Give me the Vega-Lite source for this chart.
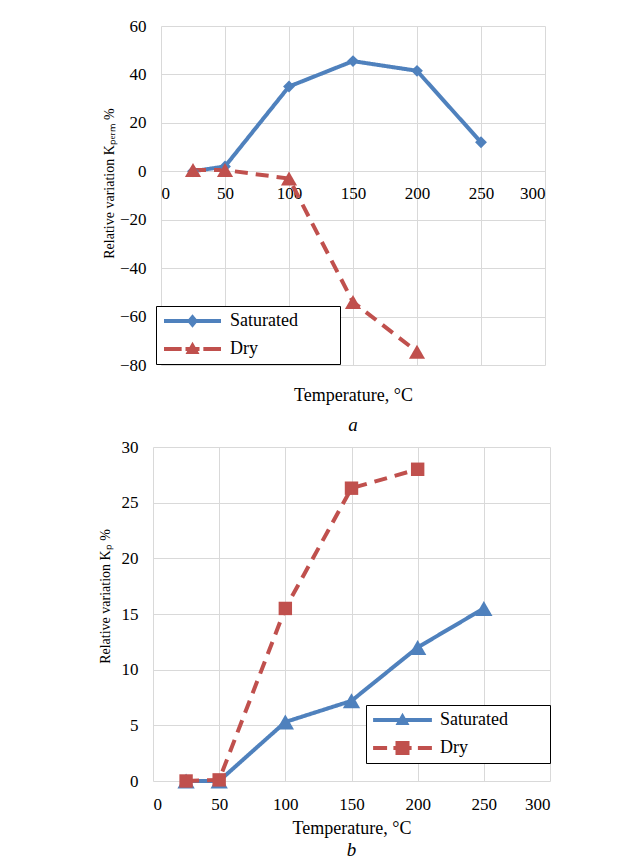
{
  "$schema": "https://vega.github.io/schema/vega-lite/v6.json",
  "padding": {"left": 98, "top": 17, "right": 5, "bottom": 5},
  "background": "white",
  "spacing": 3,
  "resolve": {"scale": {"color": "independent", "shape": "independent", "strokeDash": "independent"},
              "legend": {"color": "independent", "shape": "independent"}},
  "config": {
    "font": "Liberation Serif, Times New Roman, serif",
    "view": {"stroke": null},
    "axis": {
      "grid": true, "gridColor": "#d9d9d9", "gridWidth": 1,
      "domain": false, "ticks": false, "tickSize": 0,
      "labelFont": "Liberation Serif, Times New Roman, serif", "labelFontSize": 17, "labelColor": "#000",
      "titleFont": "Liberation Serif, Times New Roman, serif", "titleFontSize": 17, "titleFontWeight": "normal", "titleColor": "#000"
    },
    "legend": {
      "strokeColor": "#000", "strokeWidth": 1, "fillColor": "#fff", "padding": 6,
      "symbolSize": 196, "symbolOffset": 21.5, "symbolStrokeWidth": 0, "symbolOpacity": 1,
      "labelFont": "Liberation Serif, Times New Roman, serif", "labelFontSize": 18, "labelColor": "#000",
      "labelOffset": 28.5, "rowPadding": 10, "labelLimit": 300, "cornerRadius": 0
    },
    "title": {"font": "Liberation Serif, Times New Roman, serif", "fontSize": 19, "fontStyle": "italic", "fontWeight": "normal", "orient": "bottom", "color": "#000"}
  },
  "datasets": {
    "a": [
      {"series": "Saturated", "temp": 25, "value": 0},
      {"series": "Saturated", "temp": 50, "value": 2},
      {"series": "Saturated", "temp": 100, "value": 35},
      {"series": "Saturated", "temp": 150, "value": 45.5},
      {"series": "Saturated", "temp": 200, "value": 41.5},
      {"series": "Saturated", "temp": 250, "value": 12},
      {"series": "Dry", "temp": 25, "value": 0.5},
      {"series": "Dry", "temp": 50, "value": 0.5},
      {"series": "Dry", "temp": 100, "value": -3},
      {"series": "Dry", "temp": 150, "value": -54},
      {"series": "Dry", "temp": 200, "value": -74.5}
    ],
    "b": [
      {"series": "Saturated", "temp": 25, "value": 0},
      {"series": "Saturated", "temp": 50, "value": 0},
      {"series": "Saturated", "temp": 100, "value": 5.3},
      {"series": "Saturated", "temp": 150, "value": 7.2},
      {"series": "Saturated", "temp": 200, "value": 12},
      {"series": "Saturated", "temp": 250, "value": 15.5},
      {"series": "Dry", "temp": 25, "value": 0},
      {"series": "Dry", "temp": 50, "value": 0.1},
      {"series": "Dry", "temp": 100, "value": 15.5},
      {"series": "Dry", "temp": 150, "value": 26.3},
      {"series": "Dry", "temp": 200, "value": 28}
    ]
  },
  "vconcat": [
    {
      "spacing": 7,
      "bounds": "flush",
      "hconcat": [
        {"width": 1, "height": 1, "data": {"values": []}, "mark": {"type": "point", "opacity": 0}},
        {
          "width": 384, "height": 339,
          "title": {"text": "a", "offset": 12},
          "data": {"name": "a"},
          "encoding": {
            "x": {"field": "temp", "type": "quantitative", "scale": {"domain": [0, 300]},
                  "axis": {"values": [0, 50, 100, 150, 200, 250, 300], "title": "Temperature, °C", "offset": -194,
                           "labelPadding": 14, "titleY": 215, "titleBaseline": "top", "titleFontSize": 18}},
            "y": {"field": "value", "type": "quantitative", "scale": {"domain": [-80, 60]},
                  "axis": {"values": [-80, -60, -40, -20, 0, 20, 40, 60], "title": "Relative variation Kₚₑᵣₘ %",
                           "labelPadding": 15, "titlePadding": 3, "titleFontSize": 14, "titleY": 157}},
            "color": {"field": "series", "type": "nominal",
                      "scale": {"domain": ["Saturated", "Dry"], "range": ["#4f81bd", "#c0504d"]},
                      "legend": {"orient": "none", "legendX": 3, "legendY": 280, "title": null,
                                 "labelExpr": "datum.label + '\u00a0\u00a0\u00a0\u00a0\u00a0\u00a0\u00a0\u00a0\u200b'"}}
          },
          "layer": [
            {"transform": [{"filter": "false"}],
             "mark": {"type": "point", "filled": true},
             "encoding": {
               "shape": {"field": "series", "type": "nominal",
                         "scale": {"domain": ["Saturated", "Dry"],
                                   "range": ["M-4.07,-0.3H4.07V0.3H-4.07Z M0,-0.95L0.8,0L0,0.95L-0.8,0Z",
                                             "M-4.07,-0.3H-1.55V0.3H-4.07Z M-1,-0.3H1V0.3H-1Z M1.55,-0.3H4.07V0.3H1.55Z M0,-1.05L1,0.7L-1,0.7Z"]},
                         "legend": {"orient": "none", "legendX": 3, "legendY": 280, "title": null,
                                    "labelExpr": "datum.label + '\u00a0\u00a0\u00a0\u00a0\u00a0\u00a0\u00a0\u00a0\u200b'"}}}},
            {"mark": {"type": "line", "strokeWidth": 4},
             "encoding": {"strokeDash": {"field": "series", "type": "nominal",
                                         "scale": {"domain": ["Saturated", "Dry"], "range": [[1, 0], [13, 8]]}, "legend": null}}},
            {"transform": [{"filter": "datum.series === 'Saturated'"}],
             "mark": {"type": "point", "shape": "diamond", "size": 140, "filled": true, "opacity": 1, "strokeWidth": 0}},
            {"transform": [{"filter": "datum.series === 'Dry'"}],
             "mark": {"type": "point", "shape": "triangle-up", "size": 260, "filled": true, "opacity": 1, "strokeWidth": 0}}
          ]
        }
      ]
    },
    {
      "width": 397, "height": 334,
      "title": {"text": "b", "offset": 4},
      "data": {"name": "b"},
      "encoding": {
        "x": {"field": "temp", "type": "quantitative", "scale": {"domain": [0, 300]},
              "axis": {"values": [0, 50, 100, 150, 200, 250, 300], "title": "Temperature, °C",
                       "labelPadding": 15, "titlePadding": 7, "titleFontSize": 18}},
        "y": {"field": "value", "type": "quantitative", "scale": {"domain": [0, 30]},
              "axis": {"values": [0, 5, 10, 15, 20, 25, 30], "title": "Relative variation Kₚ %",
                       "labelPadding": 15, "titlePadding": 9, "titleFontSize": 14, "titleY": 149}},
        "color": {"field": "series", "type": "nominal",
                  "scale": {"domain": ["Saturated", "Dry"], "range": ["#4f81bd", "#c0504d"]},
                  "legend": {"orient": "none", "legendX": 213, "legendY": 258, "title": null,
                             "labelExpr": "datum.label + '\u00a0\u00a0\u00a0\u00a0\u00a0\u00a0\u00a0\u00a0\u200b'"}}
      },
      "layer": [
        {"transform": [{"filter": "false"}],
         "mark": {"type": "point", "filled": true},
         "encoding": {
           "shape": {"field": "series", "type": "nominal",
                     "scale": {"domain": ["Saturated", "Dry"],
                               "range": ["M-4.2,-0.3H4.2V0.3H-4.2Z M0,-1.05L1,0.7L-1,0.7Z",
                                         "M-4.2,-0.3H-2.2V0.3H-4.2Z M-1.3,-0.3H1.3V0.3H-1.3Z M2.2,-0.3H4.2V0.3H2.2Z M-1,-1H1V1H-1Z"]},
                     "legend": {"orient": "none", "legendX": 213, "legendY": 258, "title": null,
                                "labelExpr": "datum.label + '\u00a0\u00a0\u00a0\u00a0\u00a0\u00a0\u00a0\u00a0\u200b'"}}}},
        {"mark": {"type": "line", "strokeWidth": 4},
         "encoding": {"strokeDash": {"field": "series", "type": "nominal",
                                     "scale": {"domain": ["Saturated", "Dry"], "range": [[1, 0], [13, 8]]}, "legend": null}}},
        {"transform": [{"filter": "datum.series === 'Saturated'"}],
         "mark": {"type": "point", "shape": "triangle-up", "size": 300, "filled": true, "opacity": 1, "strokeWidth": 0}},
        {"transform": [{"filter": "datum.series === 'Dry'"}],
         "mark": {"type": "point", "shape": "square", "size": 180, "filled": true, "opacity": 1, "strokeWidth": 0}}
      ]
    }
  ]
}
